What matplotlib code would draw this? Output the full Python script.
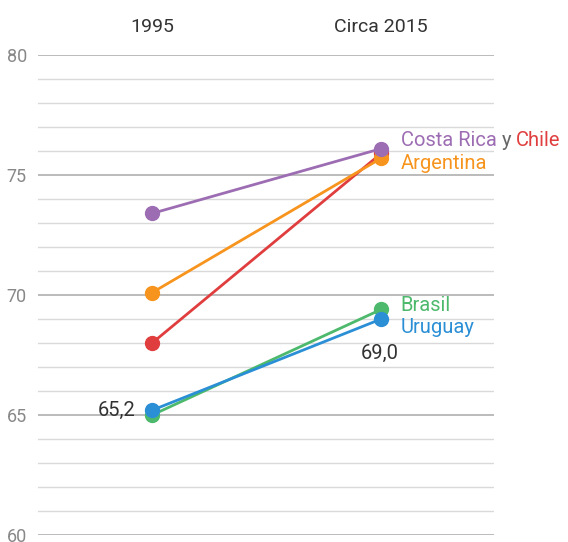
import matplotlib.pyplot as plt

plt.rcParams['font.family'] = ['Roboto', 'DejaVu Sans']

# datos
periodos = ["1995", "Circa 2015"]
paises = ["Costa Rica", "Chile", "Argentina", "Brasil", "Uruguay"]
valores_1995 = [73.4, 68.0, 70.1, 65.0, 65.2]
valores_2015 = [76.1, 75.9, 75.7, 69.4, 69.0]
colores = {"Costa Rica": "#9d6db3", "Chile": "#e03e3e", "Argentina": "#f7941d",
           "Brasil": "#4cb96c", "Uruguay": "#2b8fd6"}
y_ticks = [60, 65, 70, 75, 80]

fig = plt.figure(figsize=(5.68, 5.42), dpi=100)
ax = fig.add_axes([0.067, 0.0129, 0.803, 0.8856])
ax.set_xlim(-0.498, 1.493)
ax.set_ylim(60, 80)

# líneas de grilla
for v in range(60, 81):
    if v % 5 == 0:
        ax.axhline(v, color="#a8a8a8", lw=1.1, zorder=1)
    else:
        ax.axhline(v, color="#d9d9d9", lw=1.0, zorder=1)

# orden de dibujo como en el original
orden = ["Brasil", "Uruguay", "Chile", "Argentina", "Costa Rica"]
for p in orden:
    i = paises.index(p)
    ax.plot([0, 1], [valores_1995[i], valores_2015[i]], color=colores[p], lw=2,
            marker="o", markersize=10, zorder=3, clip_on=False)

# etiquetas de series
fs = 14.5
t = ax.annotate("Costa Rica", xy=(1, 76.1), xytext=(14, 6), textcoords="offset points",
                color=colores["Costa Rica"], fontsize=fs, va="center", ha="left")
t2 = ax.annotate(" y ", xycoords=t, xy=(1, 0), va="bottom", ha="left",
                 color="#666666", fontsize=fs)
ax.annotate("Chile", xycoords=t2, xy=(1, 0), va="bottom", ha="left",
            color=colores["Chile"], fontsize=fs)
ax.annotate("Argentina", xy=(1, 76.1), xytext=(14, -11), textcoords="offset points",
            color=colores["Argentina"], fontsize=fs, va="center", ha="left")
ax.annotate("Brasil", xy=(1, 69.4), xytext=(14, 3), textcoords="offset points",
            color=colores["Brasil"], fontsize=fs, va="center", ha="left")
ax.annotate("Uruguay", xy=(1, 69.4), xytext=(14, -13), textcoords="offset points",
            color=colores["Uruguay"], fontsize=fs, va="center", ha="left")

# valores destacados
ax.annotate("65,2", xy=(0, 65.2), xytext=(-12, 0), textcoords="offset points",
            color="#333333", fontsize=fs, va="center", ha="right")
ax.annotate("69,0", xy=(1, 69.0), xytext=(-1, -25), textcoords="offset points",
            color="#333333", fontsize=fs, va="center", ha="center")

# encabezados
for x, lab in zip([0, 1], periodos):
    ax.text(x, 80 + 28 / 24, lab, ha="center", va="center", fontsize=14, color="#333333")

ax.set_yticks(y_ticks)
ax.set_yticklabels([str(v) for v in y_ticks])
ax.tick_params(axis="y", length=0, pad=8, labelsize=13, labelcolor="#888888")
ax.set_xticks([])
for s in ax.spines.values():
    s.set_visible(False)

fig.savefig("out.png", dpi=100)
